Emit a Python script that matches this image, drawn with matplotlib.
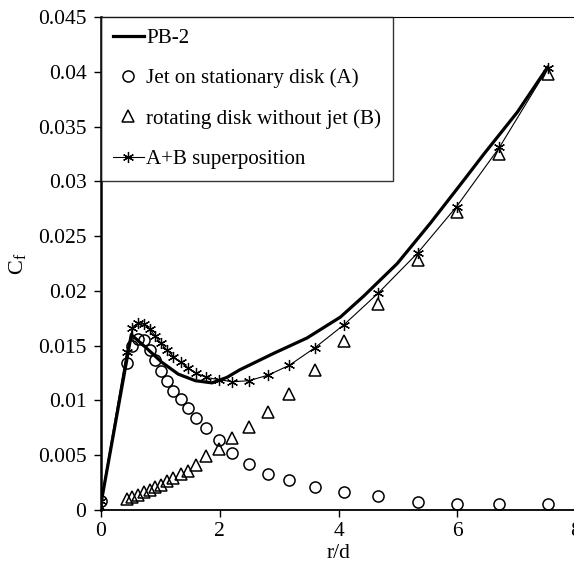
import numpy as np
import matplotlib
matplotlib.use('Agg')
from matplotlib import pyplot as plt
from matplotlib.ticker import FuncFormatter

plt.rcParams['font.family'] = ['Liberation Serif', 'DejaVu Serif']
plt.rcParams['mathtext.fontset'] = 'custom'
plt.rcParams['mathtext.rm'] = 'Liberation Serif'
plt.rcParams['mathtext.it'] = 'Liberation Serif:italic'

# PB-2 curve
pb2_r = [0, 0.51, 0.74, 1.02, 1.30, 1.59, 1.87, 2.12, 2.34, 2.91, 3.47, 4.03,
         4.42, 4.99, 5.55, 6.11, 6.45, 7.01, 7.52]
pb2_cf = [0.0006, 0.0160, 0.0149, 0.0135, 0.0124, 0.0118, 0.0116, 0.0121, 0.0128,
          0.0143, 0.0157, 0.0176, 0.0195, 0.0225, 0.0262, 0.0301, 0.0325, 0.0363, 0.0404]

# sample radii shared by the three point series
r = [0, 0.43, 0.53, 0.63, 0.72, 0.82, 0.91, 1.01, 1.11, 1.22, 1.34, 1.46, 1.60,
     1.77, 1.98, 2.21, 2.49, 2.81, 3.17, 3.60, 4.09, 4.67, 5.34, 5.99, 6.71, 7.52]

# jet on stationary disk (A)
cf_jet = [0.0008, 0.0134, 0.0150, 0.0156, 0.0155, 0.0146, 0.0137, 0.0127, 0.0118,
          0.0109, 0.0101, 0.0093, 0.0084, 0.0075, 0.0064, 0.0052, 0.0042, 0.0033,
          0.0027, 0.0021, 0.0016, 0.0013, 0.0007, 0.0005, 0.0005, 0.0005]

# rotating disk without jet (B)
cf_rot = [0.0, 0.0010, 0.0012, 0.0014, 0.0016, 0.0018, 0.0021, 0.0023, 0.0026,
          0.0029, 0.0033, 0.0036, 0.0041, 0.0049, 0.0056, 0.0066, 0.0076, 0.0089,
          0.0106, 0.0128, 0.0154, 0.0188, 0.0228, 0.0272, 0.0325, 0.0398]

# A+B superposition
cf_sum = [0.0008, 0.0144, 0.0166, 0.0171, 0.0170, 0.0165, 0.0159, 0.0152, 0.0146,
          0.0140, 0.0135, 0.0130, 0.0125, 0.0121, 0.0119, 0.0117, 0.0118, 0.0123,
          0.0132, 0.0148, 0.0169, 0.0198, 0.0235, 0.0277, 0.0331, 0.0403]

fig = plt.figure(figsize=(5.74, 5.66), dpi=100)
ax = fig.add_axes([0.176, 0.099, 0.8275, 0.871])

ax.plot(pb2_r, pb2_cf, color='black', lw=2.3, label='PB-2', zorder=4)
ax.plot(r, cf_jet, ls='none', marker='o', ms=8, mfc='none', mec='black', mew=1.1,
        label='Jet on stationary disk (A)')
ax.plot(r, cf_rot, ls='none', marker='^', ms=8, mfc='none', mec='black', mew=1.1,
        label='rotating disk without jet (B)')
ax.plot(r, cf_sum, color='black', lw=0.8, marker=(6, 2, 0), ms=8, mew=0.9,
        label='A+B superposition')

ax.set_xlim(0, 8)
ax.set_ylim(0, 0.045)
ax.set_xticks([0, 2, 4, 6, 8])
ax.set_yticks(np.arange(0, 0.0451, 0.005))
ax.yaxis.set_major_formatter(FuncFormatter(lambda v, p: '%g' % round(v, 4)))
ax.tick_params(direction='out', length=5, width=1, labelsize=15.5, colors='black')
ax.tick_params(axis='y', pad=5.5)

ax.spines['left'].set_linewidth(1.8)
ax.spines['bottom'].set_linewidth(1.3)
ax.spines['top'].set_linewidth(0.8)
ax.spines['right'].set_linewidth(0.8)

ax.set_xlabel('r/d', fontsize=15.5, labelpad=2)
ax.set_ylabel(r'$\mathrm{C_f}$', fontsize=16, labelpad=7)

leg = ax.legend(loc='upper left', fontsize=15.1, frameon=True, fancybox=False,
                edgecolor='black', borderaxespad=0, handlelength=1.5,
                handletextpad=0.1, labelspacing=0.98, borderpad=0.55)
leg.get_frame().set_linewidth(1.0)

fig.savefig('out.png', dpi=100)
